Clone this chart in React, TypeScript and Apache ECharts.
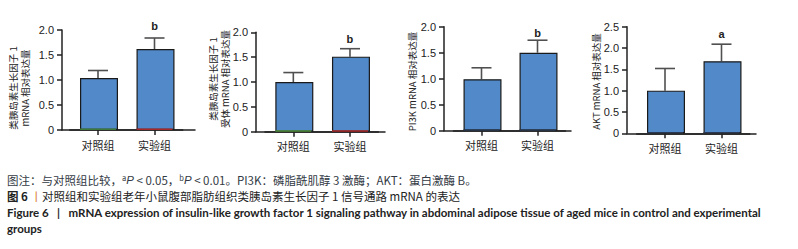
import React, { useEffect, useRef } from "react";
import * as echarts from "echarts";

const categories = ["对照组", "实验组"];

const igf1Mean = [1.04, 1.62];
const igf1Upper = [1.19, 1.84];
const igf1Letters = ["", "b"];

const igf1rMean = [1.0, 1.51];
const igf1rUpper = [1.19, 1.67];
const igf1rLetters = ["", "b"];

const pi3kMean = [0.99, 1.5];
const pi3kUpper = [1.21, 1.74];
const pi3kLetters = ["", "b"];

const aktMean = [1.0, 1.69];
const aktUpper = [1.52, 2.09];
const aktLetters = ["", "a"];

const baseStrip = [0.03, 0.03];

const yMaxes = [2, 2, 2, 2.5];
const yNames = [
  "类胰岛素生长因子 1\nmRNA 相对表达量",
  "类胰岛素生长因子 1\n受体 mRNA 相对表达量",
  "PI3K mRNA 相对表达量",
  "AKT mRNA 相对表达量",
];

const BAR = "#5189c9";
const INK = "#222";

// layout: [axisX, axisRight, top, bottom, catLeft, catWidth, letterGap, nameX, nameY]
const layout = [
  [62, 195, 30, 130, 69.75, 113, 12, 19, 88],
  [256, 385, 32.3, 131.7, 265, 113.3, 10, 219, 79],
  [444, 571, 26.7, 130.7, 453.5, 112, 7, 412, 81.5],
  [627, 756, 26.7, 133.3, 636.75, 113, 10, 596, 81.5],
];

const panels = [
  { mean: igf1Mean, upper: igf1Upper, letters: igf1Letters, strip: ["#3d7a3a", "#a8282a"] },
  { mean: igf1rMean, upper: igf1rUpper, letters: igf1rLetters, strip: ["#4f8f3a", "#b02a2a"] },
  { mean: pi3kMean, upper: pi3kUpper, letters: pi3kLetters, strip: ["#2a3a55", "#2a3a55"] },
  { mean: aktMean, upper: aktUpper, letters: aktLetters, strip: ["#2a3a55", "#2a3a55"] },
];

export default function App() {
  const ref = useRef<HTMLDivElement>(null);
  useEffect(() => {
    document.body.style.margin = "0";
    const chart = echarts.init(ref.current!, null, { renderer: "svg" });
    const grid: any[] = [];
    const xAxis: any[] = [];
    const yAxis: any[] = [];
    const series: any[] = [];
    const cjk = "Noto Sans CJK SC";
    const graphic: any[] = [];

    panels.forEach((p, i) => {
      const [ax, ar, top, bottom, cl, cw, letterGap, nameX, nameY] = layout[i];
      const h = bottom - top;
      grid.push({ left: cl, top, width: cw, height: h });
      grid.push({ left: ax, top, width: ar - ax, height: h });
      const gMain = i * 2;
      const gExt = i * 2 + 1;
      xAxis.push({
        type: "category",
        gridIndex: gMain,
        data: categories,
        axisLine: { show: true, lineStyle: { color: INK, width: 1.5 } },
        axisTick: { show: true, alignWithLabel: true, length: 5, lineStyle: { color: INK, width: 1.5 } },
        axisLabel: { color: INK, fontSize: 11, margin: 9, fontFamily: cjk },
      });
      xAxis.push({
        type: "value",
        gridIndex: gExt,
        min: 0,
        max: 1,
        axisLine: { show: true, onZero: false, lineStyle: { color: INK, width: 1.5 } },
        axisTick: { show: false },
        axisLabel: { show: false },
        splitLine: { show: false },
      });
      yAxis.push({
        type: "value",
        gridIndex: gMain,
        min: 0,
        max: yMaxes[i],
        interval: 0.5,
        offset: cl - ax,
        axisLine: { show: true, lineStyle: { color: INK, width: 1.5 } },
        axisTick: { show: true, length: 5, lineStyle: { color: INK, width: 1.5 } },
        axisLabel: {
          color: INK,
          fontSize: 11,
          margin: 8,
          fontFamily: "Liberation Sans",
          formatter: (v: number) => (v === 0 ? "0" : v.toFixed(1)),
        },
        splitLine: { show: false },
      });
      yAxis.push({ type: "value", gridIndex: gExt, show: false, min: 0, max: 1 });

      graphic.push({
        type: "text",
        x: nameX,
        y: nameY,
        rotation: Math.PI / 2,
        style: {
          text: yNames[i],
          fill: INK,
          fontSize: 9.5,
          lineHeight: 12.5,
          fontFamily: cjk,
          align: "center",
          verticalAlign: "middle",
        },
      });

      const xi = i * 2;
      const yi = i * 2;
      series.push({
        type: "bar",
        xAxisIndex: xi,
        yAxisIndex: yi,
        data: p.mean,
        barWidth: 38,
        itemStyle: { color: BAR, borderColor: "#1a1a1a", borderWidth: 1.2 },
        z: 2,
      });
      series.push({
        type: "bar",
        xAxisIndex: xi,
        yAxisIndex: yi,
        barGap: "-100%",
        barWidth: 36,
        data: baseStrip.map((v, k) => ({ value: v, itemStyle: { color: p.strip[k] } })),
        z: 3,
      });
      series.push({
        type: "custom",
        xAxisIndex: xi,
        yAxisIndex: yi,
        data: p.mean.map((m, k) => [k, m, p.upper[k]]),
        z: 1,
        renderItem: (params: any, api: any) => {
          const k = api.value(0);
          const a = api.coord([k, api.value(1)]);
          const b = api.coord([k, api.value(2)]);
          const style = { stroke: "#505050", lineWidth: 1.6 };
          const children: any[] = [
            { type: "line", shape: { x1: a[0], y1: a[1], x2: b[0], y2: b[1] }, style },
            { type: "line", shape: { x1: b[0] - 10, y1: b[1], x2: b[0] + 10, y2: b[1] }, style },
          ];
          const letter = p.letters[k];
          if (letter) {
            children.push({
              type: "text",
              style: {
                text: letter,
                x: b[0],
                y: b[1] - letterGap,
                align: "center",
                verticalAlign: "middle",
                fill: INK,
                fontSize: 11,
                fontWeight: "bold",
                fontFamily: "Liberation Sans",
              },
            });
          }
          return { type: "group", children };
        },
      });
    });

    graphic.push(
      {
        type: "text",
        left: 7,
        top: 174,
        style: {
          text: "图注：与对照组比较，{sup|a}{it|P} < 0.05，{sup|b}{it|P} < 0.01。PI3K：磷脂酰肌醇 3 激酶；AKT：蛋白激酶 B。",
          fill: "#333a44",
          fontSize: 11.5,
          fontFamily: cjk,
          rich: {
            sup: { fontSize: 7.5, verticalAlign: "top", fill: "#333a44", fontFamily: cjk, padding: [0, 0, 4, 0] },
            it: { fontStyle: "italic", fontSize: 11.5, fill: "#333a44", fontFamily: "Liberation Sans" },
          },
        },
      },
      {
        type: "text",
        left: 7,
        top: 190,
        style: {
          text: "{b|图 6} {o|丨}对照组和实验组老年小鼠腹部脂肪组织类胰岛素生长因子 1 信号通路 mRNA 的表达",
          fill: "#222",
          fontSize: 11.5,
          fontFamily: cjk,
          rich: {
            b: { fontWeight: "bold", fontSize: 11.5, fill: "#222", fontFamily: cjk },
            o: { fontSize: 11.5, fill: "#d9782b", fontFamily: cjk },
          },
        },
      },
      {
        type: "text",
        left: 7,
        top: 206,
        style: {
          text: "Figure 6   |   mRNA expression of insulin-like growth factor 1 signaling pathway in abdominal adipose tissue of aged mice in control and experimental",
          fill: "#222",
          fontSize: 11.5,
          fontWeight: "bold",
          fontFamily: "Lato",
        },
      },
      {
        type: "text",
        left: 7,
        top: 222,
        style: {
          text: "groups",
          fill: "#222",
          fontSize: 11.5,
          fontWeight: "bold",
          fontFamily: "Lato",
        },
      }
    );

    chart.setOption({
      animation: false,
      backgroundColor: "#fff",
      grid,
      xAxis,
      yAxis,
      series,
      graphic,
    });
    return () => chart.dispose();
  }, []);
  return <div ref={ref} style={{ width: 798, height: 249 }} />;
}
